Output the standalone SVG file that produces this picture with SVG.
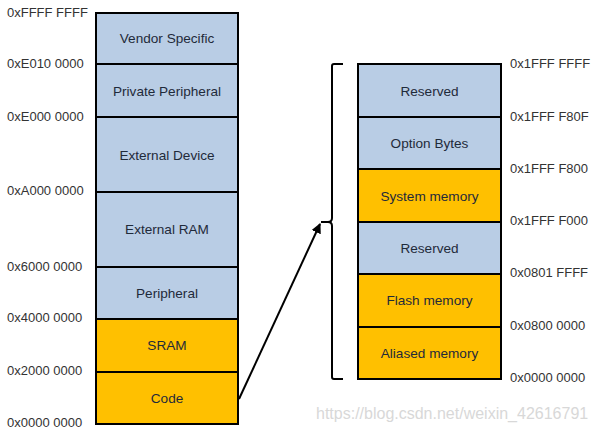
<svg xmlns="http://www.w3.org/2000/svg" width="595" height="433" viewBox="0 0 595 433">
<defs>
<style>
.blue{fill:#B9CDE5;stroke:#000;stroke-width:2}
.orng{fill:#FFC000;stroke:#000;stroke-width:2}
.lbl{font-family:"Liberation Sans",Arial,sans-serif;font-size:13.6px;fill:#1F2A3A;text-anchor:middle;dominant-baseline:central}
.addr{font-family:"Liberation Sans",Arial,sans-serif;font-size:13px;fill:#333;dominant-baseline:central}
.conn{fill:none;stroke:#000;stroke-width:2}
.wm{font-family:"Liberation Sans",Arial,sans-serif;font-size:16px;fill:#d8d8d8;dominant-baseline:central}
</style>
<marker id="ah" viewBox="0 0 10 10" refX="9" refY="5" markerWidth="5" markerHeight="5" orient="auto"><path d="M0,0 L10,5 L0,10 z" fill="#000"/></marker>
</defs>
<rect width="595" height="433" fill="#fff"/>
<g id="left-map">
<g id="vendor"><rect class="blue" x="96" y="13" width="142" height="51"/><text class="lbl" x="167" y="38">Vendor Specific</text></g>
<g id="private"><rect class="blue" x="96" y="64" width="142" height="53"/><text class="lbl" x="167" y="91">Private Peripheral</text></g>
<g id="extdev"><rect class="blue" x="96" y="117" width="142" height="75"/><text class="lbl" x="167" y="155">External Device</text></g>
<g id="extram"><rect class="blue" x="96" y="192" width="142" height="75"/><text class="lbl" x="167" y="229">External RAM</text></g>
<g id="periph"><rect class="blue" x="96" y="267" width="142" height="52"/><text class="lbl" x="167" y="293">Peripheral</text></g>
<g id="sram"><rect class="orng" x="96" y="319" width="142" height="53"/><text class="lbl" x="167" y="345">SRAM</text></g>
<g id="code"><rect class="orng" x="96" y="372" width="142" height="52"/><text class="lbl" x="167" y="398">Code</text></g>
</g>
<g id="left-addr">
<text class="addr" x="7" y="12">0xFFFF FFFF</text>
<text class="addr" x="7" y="63">0xE010 0000</text>
<text class="addr" x="7" y="116">0xE000 0000</text>
<text class="addr" x="7" y="190">0xA000 0000</text>
<text class="addr" x="7" y="266">0x6000 0000</text>
<text class="addr" x="7" y="317">0x4000 0000</text>
<text class="addr" x="7" y="370">0x2000 0000</text>
<text class="addr" x="7" y="422">0x0000 0000</text>
</g>
<g id="right-map">
<g id="reserved1"><rect class="blue" x="358" y="64" width="143" height="53"/><text class="lbl" x="429.5" y="91">Reserved</text></g>
<g id="option"><rect class="blue" x="358" y="117" width="143" height="52"/><text class="lbl" x="429.5" y="143">Option Bytes</text></g>
<g id="sysmem"><rect class="orng" x="358" y="169" width="143" height="53"/><text class="lbl" x="429.5" y="196">System memory</text></g>
<g id="reserved2"><rect class="blue" x="358" y="222" width="143" height="52"/><text class="lbl" x="429.5" y="248">Reserved</text></g>
<g id="flash"><rect class="orng" x="358" y="274" width="143" height="53"/><text class="lbl" x="429.5" y="300">Flash memory</text></g>
<g id="aliased"><rect class="orng" x="358" y="327" width="143" height="52"/><text class="lbl" x="429.5" y="353">Aliased memory</text></g>
</g>
<g id="right-addr">
<text class="addr" x="510" y="63">0x1FFF FFFF</text>
<text class="addr" x="510" y="116">0x1FFF F80F</text>
<text class="addr" x="510" y="168">0x1FFF F800</text>
<text class="addr" x="510" y="220">0x1FFF F000</text>
<text class="addr" x="510" y="272">0x0801 FFFF</text>
<text class="addr" x="510" y="325">0x0800 0000</text>
<text class="addr" x="510" y="377">0x0000 0000</text>
</g>
<g id="connectors">
<path class="conn" d="M343,64 H334 Q332,64 332,66 V218 Q332,222 328,222 H321 M321,222 H328 Q332,222 332,226 V377 Q332,379 334,379 H343"/>
<line class="conn" x1="239" y1="399" x2="320" y2="224" marker-end="url(#ah)"/>
</g>
<text class="wm" x="316" y="413">https://blog.csdn.net/weixin_42616791</text>
</svg>
